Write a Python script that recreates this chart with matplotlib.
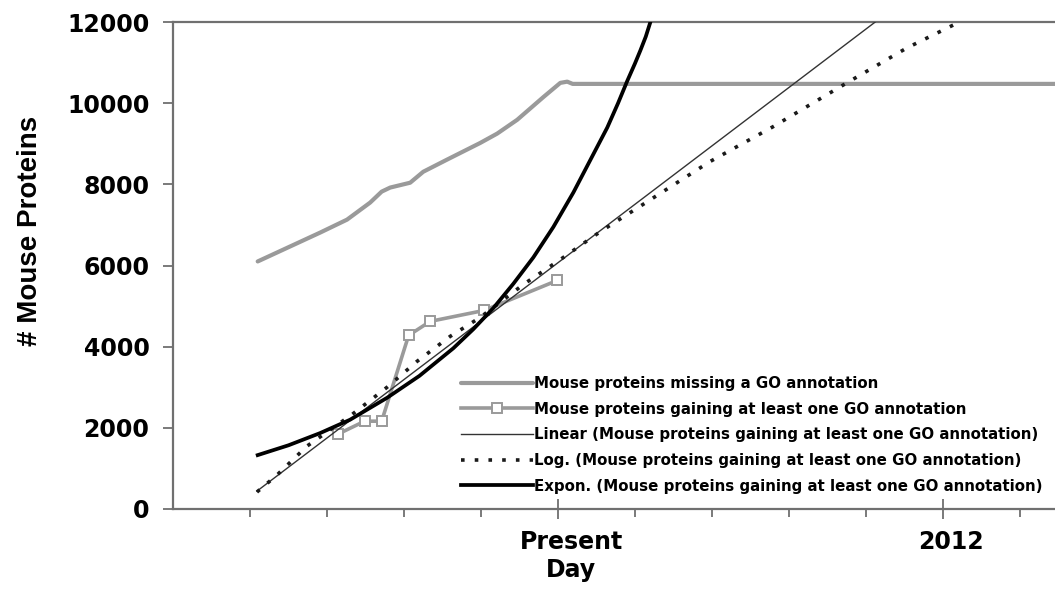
import matplotlib
matplotlib.use("Agg")
import matplotlib.pyplot as plt
import matplotlib.transforms as mtransforms
from matplotlib.ticker import FixedLocator

# ---- data (x in tick-interval units; 5 = "Present Day", 10 = "2012") ----
missing_x = [1.10, 1.91, 2.26, 2.56, 2.71, 2.82, 3.08, 3.25, 3.56, 3.99, 4.21, 4.47, 4.81, 5.03, 5.12, 5.19, 11.6]
missing_y = [6100, 6810, 7130, 7550, 7820, 7920, 8040, 8310, 8610, 9020, 9250, 9590, 10150, 10500, 10530, 10475, 10475]

gain_x = [2.14, 2.49, 2.71, 3.06, 3.34, 4.04, 4.99]
gain_y = [1844, 2164, 2164, 4278, 4623, 4893, 5631]

linear_x = [1.09, 9.12]
linear_y = [440, 12000]

log_x = [1.09, 1.35, 1.74, 2.33, 2.78, 3.17, 3.60, 3.99, 4.55, 5.03, 5.55, 6.16, 6.97, 7.79, 8.75, 9.53, 10.16]
log_y = [418, 836, 1549, 2336, 3000, 3639, 4254, 4721, 5532, 6147, 6835, 7573, 8557, 9417, 10499, 11360, 11950]

expon_x = [1.10, 1.50, 1.91, 2.30, 2.78, 3.20, 3.64, 3.90, 4.16, 4.42, 4.68, 4.94, 5.20, 5.42, 5.64, 5.78, 5.90, 6.00, 6.07, 6.14, 6.20]
expon_y = [1328, 1570, 1870, 2200, 2740, 3280, 3960, 4430, 4950, 5550, 6200, 6950, 7800, 8600, 9400, 10000, 10550, 10980, 11300, 11640, 12000]

x_major_ticks = [5, 10]
x_major_labels = ["Present\nDay", "2012"]
x_minor_ticks = [1, 2, 3, 4, 6, 7, 8, 9, 11]
y_ticks = [0, 2000, 4000, 6000, 8000, 10000, 12000]

labels = [
    "Mouse proteins missing a GO annotation",
    "Mouse proteins gaining at least one GO annotation",
    "Linear (Mouse proteins gaining at least one GO annotation)",
    "Log. (Mouse proteins gaining at least one GO annotation)",
    "Expon. (Mouse proteins gaining at least one GO annotation)",
]

W, H = 1055, 598
fig = plt.figure(figsize=(W / 100, H / 100), dpi=100)
ax = fig.add_axes([173 / W, (H - 509) / H, (W - 173) / W, (509 - 22) / H])
ax.set_xlim(0, (W - 173) / 77.0)
ax.set_ylim(0, 12000)

grey = "#9a9a9a"
ax.plot(missing_x, missing_y, color=grey, lw=3.0, solid_capstyle="round", label=labels[0], zorder=3)
ax.plot(gain_x, gain_y, color=grey, lw=2.6, marker="s", markersize=7.5,
        markerfacecolor="white", markeredgecolor=grey, markeredgewidth=1.4, label=labels[1], zorder=4)
ax.plot(linear_x, linear_y, color="#333333", lw=1.0, label=labels[2], zorder=5)
ax.plot(log_x, log_y, color="#1a1a1a", lw=2.6, linestyle=(0, (1.0, 2.8)), label=labels[3], zorder=5)
ax.plot(expon_x, expon_y, color="black", lw=2.7, solid_joinstyle="round", label=labels[4], zorder=6)

spine_c = "#707070"
for s in ["left", "bottom", "top"]:
    ax.spines[s].set_color(spine_c)
    ax.spines[s].set_linewidth(1.6)
ax.spines["right"].set_visible(False)

ax.set_yticks(y_ticks)
ax.set_yticklabels([str(v) for v in y_ticks])
ax.tick_params(axis="y", direction="out", length=7, width=1.3, color=spine_c, pad=10,
               labelsize=17)
ax.xaxis.set_major_locator(FixedLocator(x_major_ticks))
ax.set_xticklabels(x_major_labels)
ax.xaxis.set_minor_locator(FixedLocator(x_minor_ticks))
ax.tick_params(axis="x", which="major", direction="inout", length=14, width=1.3,
               color=spine_c, pad=8, labelsize=17)
ax.tick_params(axis="x", which="minor", direction="out", length=6, width=1.3, color=spine_c)
for lab in ax.get_yticklabels() + ax.get_xticklabels():
    lab.set_fontweight("bold")
    lab.set_family("DejaVu Sans")
offsets = [13, 8]
for lab, off in zip(ax.get_xticklabels(), offsets):
    lab.set_transform(lab.get_transform() + mtransforms.ScaledTranslation(off / 100, 0, fig.dpi_scale_trans))

ax.set_ylabel("# Mouse Proteins", fontsize=20, fontweight="bold", family="Liberation Sans")
ax.yaxis.set_label_coords(-0.147, 0.57)

leg = ax.legend(loc="upper left", bbox_to_anchor=(461 / W, 1 - 376 / H),
                bbox_transform=fig.transFigure, frameon=False, numpoints=1,
                prop={"family": "DejaVu Sans", "weight": "bold", "size": 10.8},
                handlelength=4.8, handletextpad=0.1, labelspacing=0.71,
                borderpad=0, borderaxespad=0)

fig.savefig("out.png", dpi=100, facecolor="white")
